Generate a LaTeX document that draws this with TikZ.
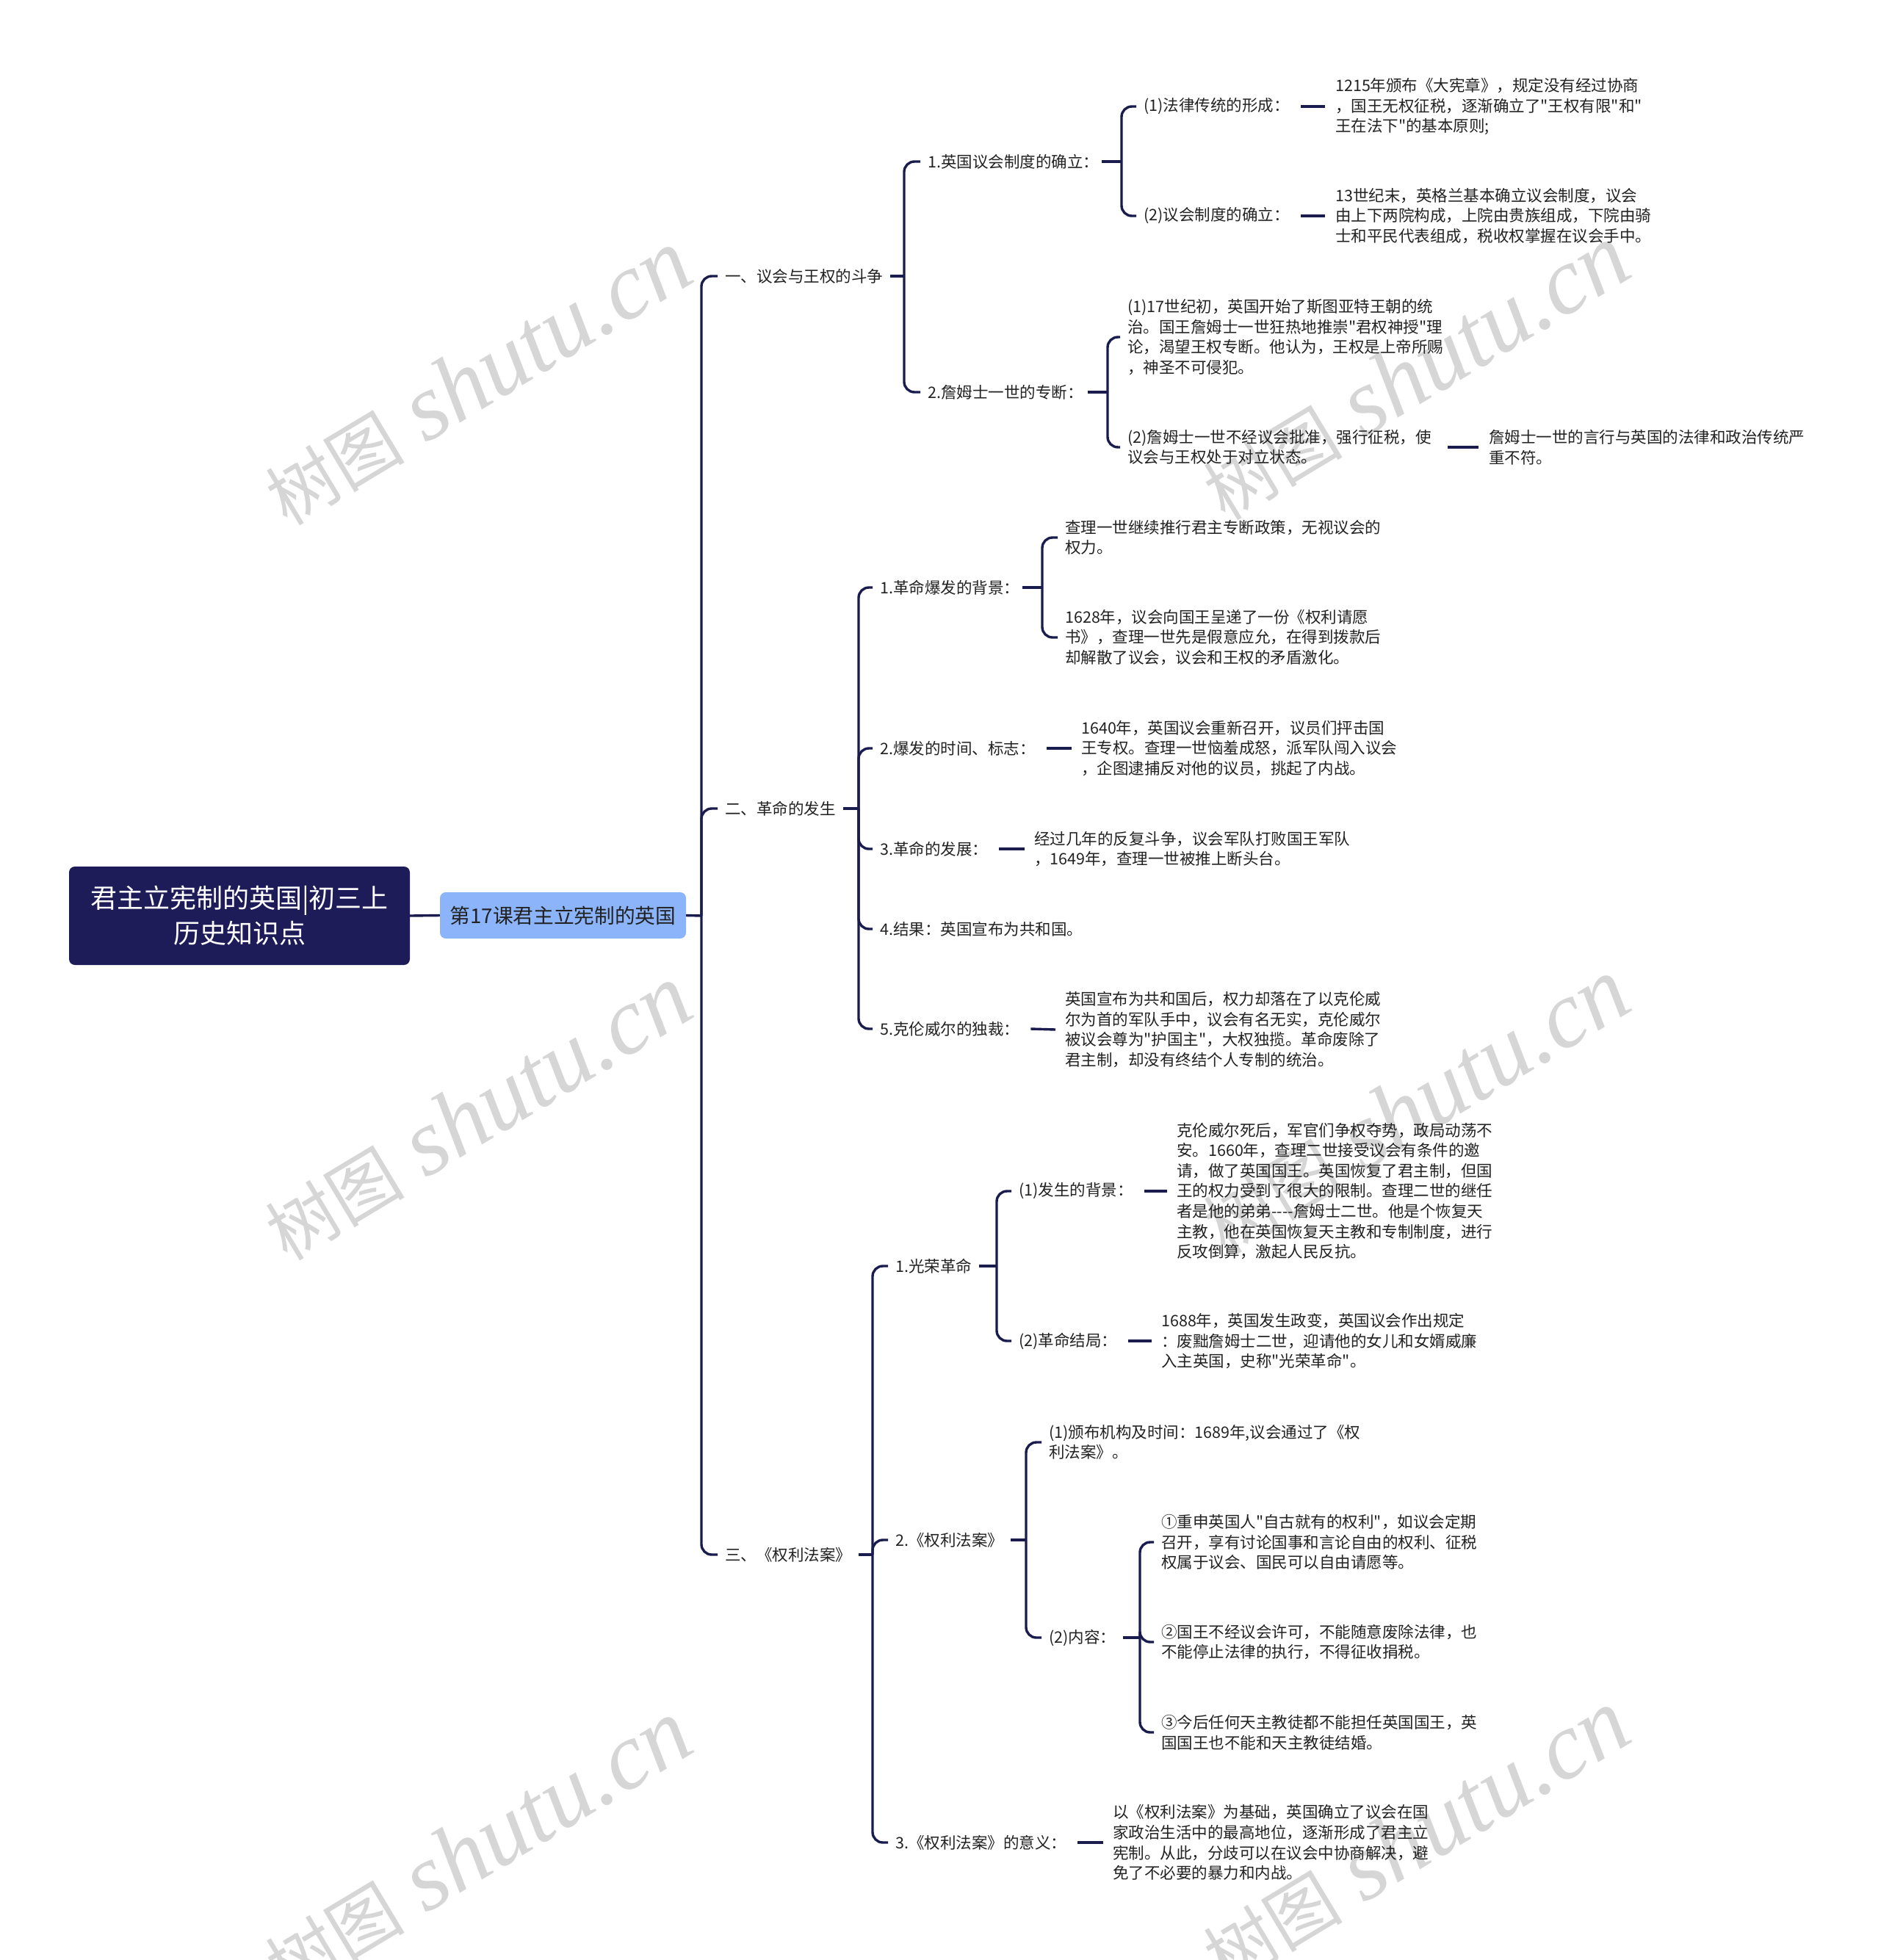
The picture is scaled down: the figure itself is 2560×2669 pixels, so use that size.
\documentclass[tikz,border=0pt]{standalone}
\usepackage{fontspec}
\setmainfont{Noto Sans CJK SC}
\newfontfamily\cjkmain{Noto Sans CJK SC}[Ligatures=TeXOff]
\newfontfamily\wmlatin{Liberation Serif}
\newfontfamily\wmcjk{Noto Sans CJK SC}
\definecolor{linec}{HTML}{1A1C4E}
\definecolor{rootc}{HTML}{1D1B58}
\definecolor{lonec}{HTML}{8CB4FA}
\definecolor{textc}{HTML}{222222}
\definecolor{wmc}{HTML}{D6D6D6}
\newcommand\wmtext{{\wmcjk\fontsize{95}{95}\selectfont 树图} {\wmlatin\itshape shutu.cn}}
\tikzset{
  conn/.style={draw=linec, line width=3.4pt},
  branchline/.style={draw=linec, line width=3.4pt, rounded corners=14pt},
  txt/.style={anchor=west, inner sep=0pt, align=left, text=textc, font={\cjkmain\fontsize{21.5}{27.6}\selectfont}},
  rootbox/.style={fill=rootc, rounded corners=8pt, minimum width=464pt, minimum height=134pt, text=white, align=center, inner sep=0pt, font={\cjkmain\fontsize{36}{48}\selectfont}},
  lonebox/.style={fill=lonec, rounded corners=8pt, minimum width=335pt, minimum height=63pt, text=textc, inner sep=0pt, font={\cjkmain\fontsize{27.7}{33}\selectfont}},
  wm/.style={text=wmc, rotate=31, inner sep=0pt, font={\fontsize{129}{129}\selectfont}}
}
\begin{document}
\begin{tikzpicture}[x=1pt,y=-1pt]
\fill[white] (0,0) rectangle (2560,2669);
\useasboundingbox (0,0) rectangle (2560,2669);
% watermarks
\node[wm] (wm1) at (650,514) {\wmtext};
\node[wm] (wm2) at (1927,507) {\wmtext};
\node[wm] (wm3) at (650,1515) {\wmtext};
\node[wm] (wm4) at (1927,1506) {\wmtext};
\node[wm] (wm5) at (650,2516) {\wmtext};
\node[wm] (wm6) at (1927,2502) {\wmtext};
% root and level 1
\node[rootbox] (root) at (326,1247) {君主立宪制的英国|初三上\\历史知识点};
\node[lonebox] (l1) at (766.5,1246.5) {第17课君主立宪制的英国};
\draw[conn] (root.east) -- (l1.west);
\coordinate (s0) at (955,1247);
\draw[conn] (l1.east) -- (s0);
% level 2
\node[txt] (n1) at (987,376) {一、议会与王权的斗争};
\node[txt] (n2) at (987,1101) {二、革命的发生};
\node[txt] (n3) at (987,2117) {三、《权利法案》};
\foreach \cc in {n1,n2,n3} \draw[branchline] (s0) |- ([xshift=-10pt]\cc.west);
% group A
\coordinate (sA) at (1231,376);
\draw[conn] ([xshift=10pt]n1.east) -- (sA);
\node[txt] (a1) at (1263,220) {1.英国议会制度的确立：};
\node[txt] (a2) at (1263,534) {2.詹姆士一世的专断：};
\foreach \cc in {a1,a2} \draw[branchline] (sA) |- ([xshift=-10pt]\cc.west);
% a1
\coordinate (sA1) at (1527,220);
\draw[conn] ([xshift=4pt]a1.east) -- (sA1);
\node[txt] (a1a) at (1557,145) {(1)法律传统的形成：};
\node[txt] (a1b) at (1557,294) {(2)议会制度的确立：};
\foreach \cc in {a1a,a1b} \draw[branchline] (sA1) |- ([xshift=-10pt]\cc.west);
\node[txt] (a1at) at (1818,145) {1215年颁布《大宪章》，规定没有经过协商\\，国王无权征税，逐渐确立了"王权有限"和"\\王在法下"的基本原则;};
\node[txt] (a1bt) at (1818,294) {13世纪末，英格兰基本确立议会制度，议会\\由上下两院构成，上院由贵族组成，下院由骑\\士和平民代表组成，税收权掌握在议会手中。};
\draw[conn] ([xshift=15pt]a1a.east) -- ([xshift=-14pt]a1at.west);
\draw[conn] ([xshift=15pt]a1b.east) -- ([xshift=-14pt]a1bt.west);
% a2
\coordinate (sA2) at (1508,534);
\draw[conn] ([xshift=6pt]a2.east) -- (sA2);
\node[txt] (a2a) at (1535,459) {(1)17世纪初，英国开始了斯图亚特王朝的统\\治。国王詹姆士一世狂热地推崇"君权神授"理\\论，渴望王权专断。他认为，王权是上帝所赐\\，神圣不可侵犯。};
\node[txt] (a2b) at (1535,609) {(2)詹姆士一世不经议会批准，强行征税，使\\议会与王权处于对立状态。};
\foreach \cc in {a2a,a2b} \draw[branchline] (sA2) |- ([xshift=-10pt]\cc.west);
\node[txt] (a2bt) at (2027,609) {詹姆士一世的言行与英国的法律和政治传统严\\重不符。};
\draw[conn] ([xshift=22pt]a2b.east) -- ([xshift=-14pt]a2bt.west);
% group B
\coordinate (sB) at (1169,1101);
\draw[conn] ([xshift=10pt]n2.east) -- (sB);
\node[txt] (b1) at (1198,800) {1.革命爆发的背景：};
\node[txt] (b2) at (1198,1019) {2.爆发的时间、标志：};
\node[txt] (b3) at (1198,1156) {3.革命的发展：};
\node[txt] (b4) at (1198,1265) {4.结果：英国宣布为共和国。};
\node[txt] (b5) at (1198,1401) {5.克伦威尔的独裁：};
\foreach \cc in {b1,b2,b3,b4,b5} \draw[branchline] (sB) |- ([xshift=-10pt]\cc.west);
% b1
\coordinate (sB1) at (1419,800);
\draw[conn] ([xshift=4pt]b1.east) -- (sB1);
\node[txt] (b1a) at (1450,732) {查理一世继续推行君主专断政策，无视议会的\\权力。};
\node[txt] (b1b) at (1450,868) {1628年，议会向国王呈递了一份《权利请愿\\书》，查理一世先是假意应允，在得到拨款后\\却解散了议会，议会和王权的矛盾激化。};
\foreach \cc in {b1a,b1b} \draw[branchline] (sB1) |- ([xshift=-10pt]\cc.west);
% b2, b3, b5
\node[txt] (b2t) at (1472,1019) {1640年，英国议会重新召开，议员们抨击国\\王专权。查理一世恼羞成怒，派军队闯入议会\\，企图逮捕反对他的议员，挑起了内战。};
\draw[conn] ([xshift=15pt]b2.east) -- ([xshift=-13pt]b2t.west);
\node[txt] (b3t) at (1408,1156) {经过几年的反复斗争，议会军队打败国王军队\\，1649年，查理一世被推上断头台。};
\draw[conn] ([xshift=15pt]b3.east) -- ([xshift=-13pt]b3t.west);
\node[txt] (b5t) at (1450,1402) {英国宣布为共和国后，权力却落在了以克伦威\\尔为首的军队手中，议会有名无实，克伦威尔\\被议会尊为"护国主"，大权独揽。革命废除了\\君主制，却没有终结个人专制的统治。};
\draw[conn] ([xshift=15pt]b5.east) -- ([xshift=-13pt]b5t.west);
% group C
\coordinate (sC) at (1188,2117);
\draw[conn] ([xshift=10pt]n3.east) -- (sC);
\node[txt] (c1) at (1219,1724) {1.光荣革命};
\node[txt] (c2) at (1219,2097) {2.《权利法案》};
\node[txt] (c3) at (1219,2509) {3.《权利法案》的意义：};
\foreach \cc in {c1,c2,c3} \draw[branchline] (sC) |- ([xshift=-10pt]\cc.west);
% c1
\coordinate (sC1) at (1357,1724);
\draw[conn] ([xshift=10pt]c1.east) -- (sC1);
\node[txt] (c1a) at (1387,1622) {(1)发生的背景：};
\node[txt] (c1b) at (1387,1826) {(2)革命结局：};
\foreach \cc in {c1a,c1b} \draw[branchline] (sC1) |- ([xshift=-10pt]\cc.west);
\node[txt] (c1at) at (1602,1622) {克伦威尔死后，军官们争权夺势，政局动荡不\\安。1660年，查理二世接受议会有条件的邀\\请，做了英国国王。英国恢复了君主制，但国\\王的权力受到了很大的限制。查理二世的继任\\者是他的弟弟----詹姆士二世。他是个恢复天\\主教，他在英国恢复天主教和专制制度，进行\\反攻倒算，激起人民反抗。};
\draw[conn] ([xshift=15pt]c1a.east) -- ([xshift=-13pt]c1at.west);
\node[txt] (c1bt) at (1581,1826) {1688年，英国发生政变，英国议会作出规定\\：废黜詹姆士二世，迎请他的女儿和女婿威廉\\入主英国，史称"光荣革命"。};
\draw[conn] ([xshift=15pt]c1b.east) -- ([xshift=-13pt]c1bt.west);
% c2
\coordinate (sC2) at (1397,2097);
\draw[conn] ([xshift=10pt]c2.east) -- (sC2);
\node[txt] (c2a) at (1428,1964) {(1)颁布机构及时间：1689年,议会通过了《权\\利法案》。};
\node[txt] (c2b) at (1428,2230) {(2)内容：};
\foreach \cc in {c2a,c2b} \draw[branchline] (sC2) |- ([xshift=-10pt]\cc.west);
\coordinate (sC2b) at (1552,2230);
\draw[conn] ([xshift=10pt]c2b.east) -- (sC2b);
\node[txt] (c2b1) at (1581,2100) {①重申英国人"自古就有的权利"，如议会定期\\召开，享有讨论国事和言论自由的权利、征税\\权属于议会、国民可以自由请愿等。};
\node[txt] (c2b2) at (1581,2236) {②国王不经议会许可，不能随意废除法律，也\\不能停止法律的执行，不得征收捐税。};
\node[txt] (c2b3) at (1581,2359) {③今后任何天主教徒都不能担任英国国王，英\\国国王也不能和天主教徒结婚。};
\foreach \cc in {c2b1,c2b2,c2b3} \draw[branchline] (sC2b) |- ([xshift=-10pt]\cc.west);
% c3
\node[txt] (c3t) at (1515,2509) {以《权利法案》为基础，英国确立了议会在国\\家政治生活中的最高地位，逐渐形成了君主立\\宪制。从此，分歧可以在议会中协商解决，避\\免了不必要的暴力和内战。};
\draw[conn] ([xshift=15pt]c3.east) -- ([xshift=-13pt]c3t.west);
\end{tikzpicture}
\end{document}
